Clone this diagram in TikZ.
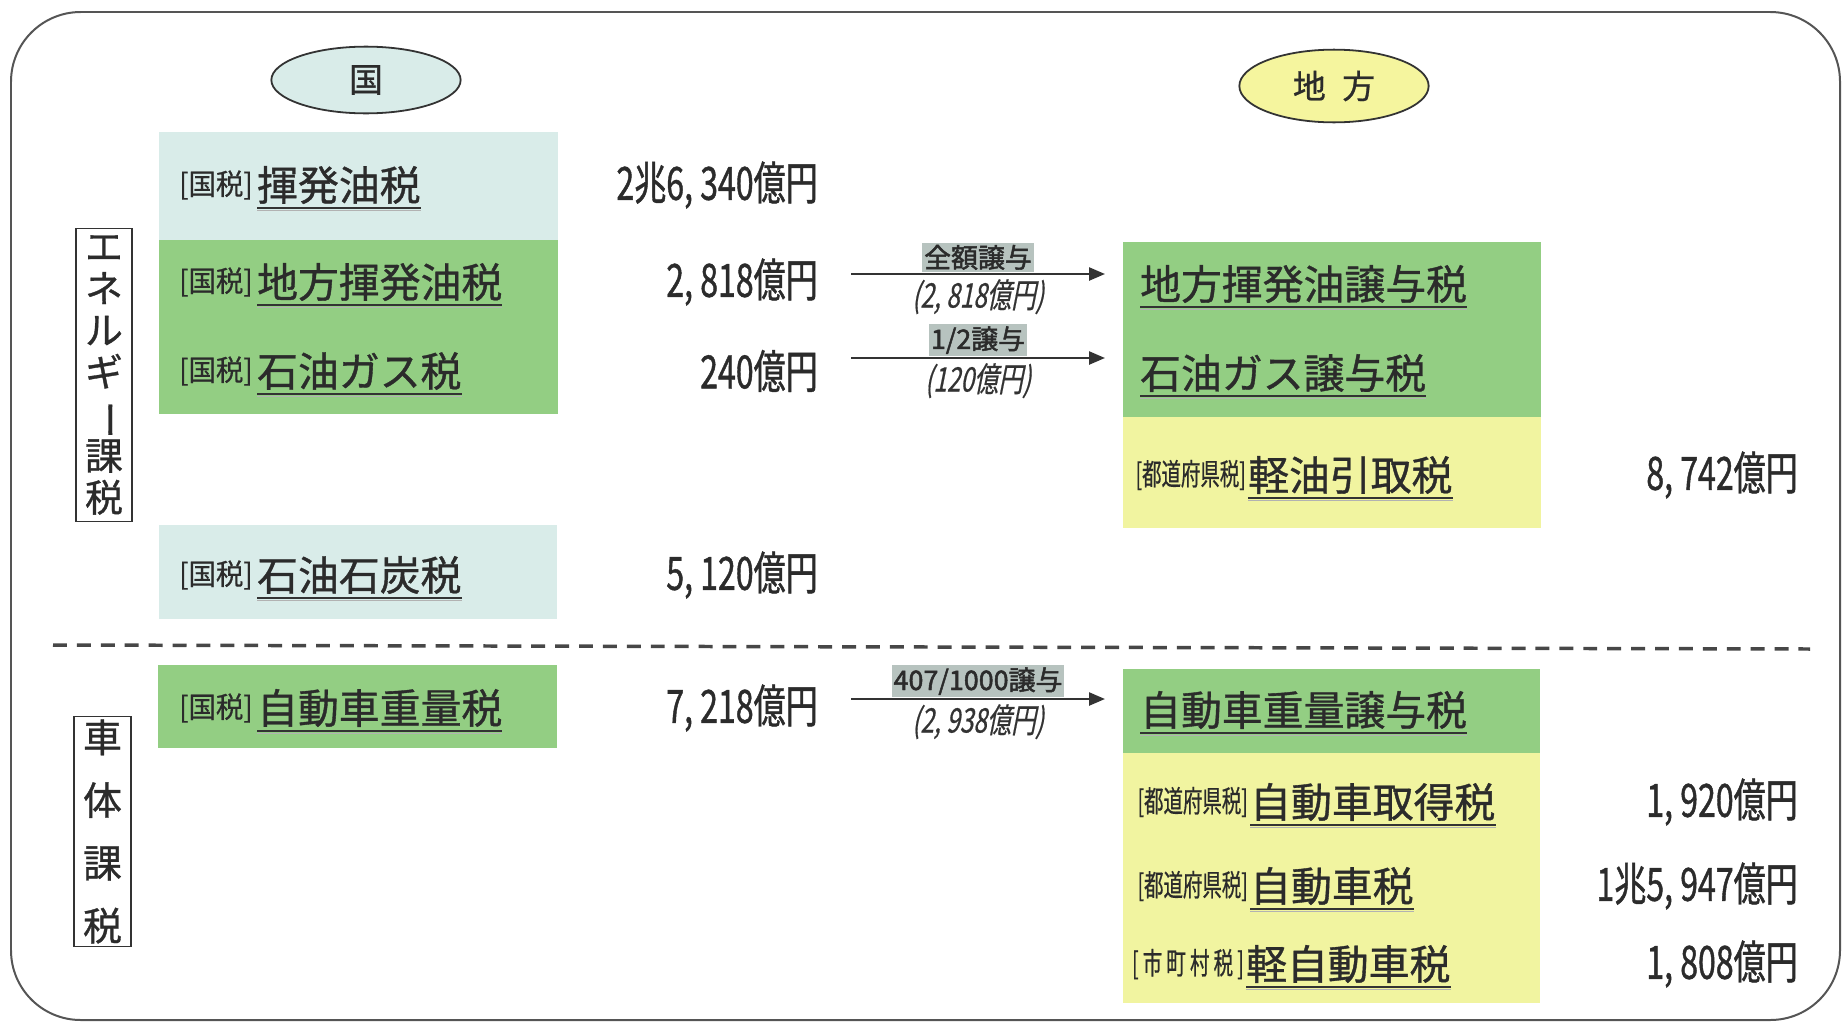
\documentclass[tikz,border=0pt]{standalone}
\usepackage{fontspec}
\setmainfont{Noto Sans CJK JP}[FakeBold=0.9]
\newfontfamily\cond[FakeStretch=0.7,FakeBold=0.9]{Noto Sans CJK JP}
\newfontfamily\pref[FakeStretch=0.95,FakeBold=0.5]{Noto Sans CJK JP}
\newfontfamily\rpref[FakeStretch=0.65,FakeBold=0.6]{Noto Sans CJK JP}
\newfontfamily\slnt[FakeSlant=0.2,FakeStretch=0.72,FakeBold=0.5]{Noto Sans CJK JP}
\newfontfamily\bld[FakeBold=1.8]{Noto Sans CJK JP}
\usetikzlibrary{arrows.meta,shapes.geometric}
\definecolor{txt}{HTML}{2B2B2B}
\definecolor{lblue}{HTML}{D9ECE9}
\definecolor{grn}{HTML}{93CE83}
\definecolor{ylw}{HTML}{F1F4A0}
\definecolor{ylwell}{HTML}{F5F59E}
\definecolor{ulc}{HTML}{333333}
\definecolor{lblbg}{HTML}{B7C3BF}
\definecolor{framec}{HTML}{555555}
\tikzset{
  every node/.style={inner sep=0pt,text=txt},
  uline/.style={append after command={
    ([yshift=-4pt]\tikzlastnode.south west) edge[draw=ulc,line width=2.4pt] ([yshift=-4pt]\tikzlastnode.south east)
    ([yshift=-6.5pt]\tikzlastnode.south west) edge[draw=gray!60,line width=1.4pt] ([yshift=-6.5pt]\tikzlastnode.south east)}},
  pre/.style={anchor=west,font=\fontsize{29}{32}\pref},
  rpre/.style={anchor=east,font=\fontsize{30}{32}\rpref},
  nm/.style={anchor=west,font=\fontsize{41}{48}\selectfont,uline},
  amt/.style={anchor=east,font=\fontsize{46}{50}\cond},
  arr/.style={draw=ulc,line width=2.4pt,-{Triangle[length=16pt,width=13pt]}},
  lbl/.style={anchor=south,fill=lblbg,inner xsep=2pt,inner ysep=2pt,font=\fontsize{27}{29}\bld},
  sublbl/.style={anchor=north,text=ulc,font=\fontsize{34}{36}\slnt},
  vlab/.style={draw=ulc,line width=1.8pt,align=center,minimum width=57pt},
  ell/.style={ellipse,draw=ulc,line width=1.8pt,minimum width=190pt}
}
\begin{document}
\begin{tikzpicture}[x=1bp,y=-1bp]
\useasboundingbox (0,0) rectangle (1843,1024);
\draw[framec,line width=2pt,rounded corners=70pt] (11,12) rectangle (1840,1020);

% ellipses
\node[ell,fill=lblue,minimum height=67pt,font=\fontsize{34}{36}\selectfont] (kuni) at (366,80) {国};
\node[ell,fill=ylwell,minimum height=73pt,font=\fontsize{33}{36}\selectfont] (chiho) at (1334,86) {地\hspace{0.5em}方};

% left boxes
\fill[lblue] (159,132) rectangle (558,240);
\fill[grn] (159,240) rectangle (558,414);
\fill[lblue] (159,525) rectangle (557,619);
\fill[grn] (158,665) rectangle (557,748);

% right boxes
\fill[grn] (1123,242) rectangle (1541,417);
\fill[ylw] (1123,417) rectangle (1541,528);
\fill[grn] (1123,669) rectangle (1540,753);
\fill[ylw] (1123,753) rectangle (1540,1003);

% dashed separator
\draw[ulc!90,line width=3.5pt,dash pattern=on 14pt off 10pt] (53,645) -- (1810,649);

% vertical labels
\node[vlab,minimum height=294pt,font=\fontsize{38}{42}\selectfont] (energy) at (104,375)
  {エ\\ネ\\ル\\ギ\\\rotatebox[origin=c]{-90}{ー}\\課\\税};
\node[vlab,minimum height=231pt,font=\fontsize{39}{63}\selectfont] (shatai) at (102.5,831.5)
  {車\\体\\課\\税};

% left rows
\node[pre] (p1) at (179,185) {[国税]};
\node[nm] (n1) at (257,185) {揮発油税};
\node[amt] (m1) at (818,185) {2兆6, 340億円};

\node[pre] (p2) at (179,282) {[国税]};
\node[nm] (n2) at (257,282) {地方揮発油税};
\node[amt] (m2) at (818,282) {2, 818億円};

\node[pre] (p3) at (179,371) {[国税]};
\node[nm] (n3) at (257,371) {石油ガス税};
\node[amt] (m3) at (818,371) {240億円};

\node[pre] (p4) at (179,575) {[国税]};
\node[nm] (n4) at (257,575) {石油石炭税};
\node[amt] (m4) at (818,575) {5, 120億円};

\node[pre] (p5) at (179,708) {[国税]};
\node[nm] (n5) at (257,708) {自動車重量税};
\node[amt] (m5) at (818,708) {7, 218億円};

% right rows
\node[nm] (r1) at (1140,284) {地方揮発油譲与税};
\node[nm] (r2) at (1140,373) {石油ガス譲与税};
\node[nm] (r3) at (1248,475) {軽油引取税};
\node[rpre] (rp3) at ([xshift=-2pt]r3.west) {[都道府県税]};
\node[amt] (rm3) at (1798,475) {8, 742億円};

\node[nm] (r4) at (1140,710) {自動車重量譲与税};
\node[nm] (r5) at (1250,802) {自動車取得税};
\node[rpre] (rp5) at ([xshift=-2pt]r5.west) {[都道府県税]};
\node[amt] (rm5) at (1798,802) {1, 920億円};
\node[nm] (r6) at (1250,886) {自動車税};
\node[rpre] (rp6) at ([xshift=-2pt]r6.west) {[都道府県税]};
\node[amt] (rm6) at (1798,886) {1兆5, 947億円};
\node[nm] (r7) at (1246,964) {軽自動車税};
\node[rpre,font=\fontsize{30}{32}\rpref\addfontfeatures{LetterSpace=14}] (rp7) at ([xshift=-2pt]r7.west) {[市町村税]};
\node[amt] (rm7) at (1798,964) {1, 808億円};

% arrows
\coordinate (a1s) at (851,274); \coordinate (a1e) at (1105,274);
\draw[arr] (a1s) -- (a1e);
\node[lbl] (l1) at (978,272) {全額譲与};
\node[sublbl] (s1) at (978,279) {(2, 818億円)};

\coordinate (a2s) at (851,358); \coordinate (a2e) at (1105,358);
\draw[arr] (a2s) -- (a2e);
\node[lbl] (l2) at (978,356) {1/2譲与};
\node[sublbl] (s2) at (978,363) {(120億円)};

\coordinate (a3s) at (851,699); \coordinate (a3e) at (1105,699);
\draw[arr] (a3s) -- (a3e);
\node[lbl] (l3) at (978,697) {407/1000譲与};
\node[sublbl] (s3) at (978,704) {(2, 938億円)};
\end{tikzpicture}
\end{document}
